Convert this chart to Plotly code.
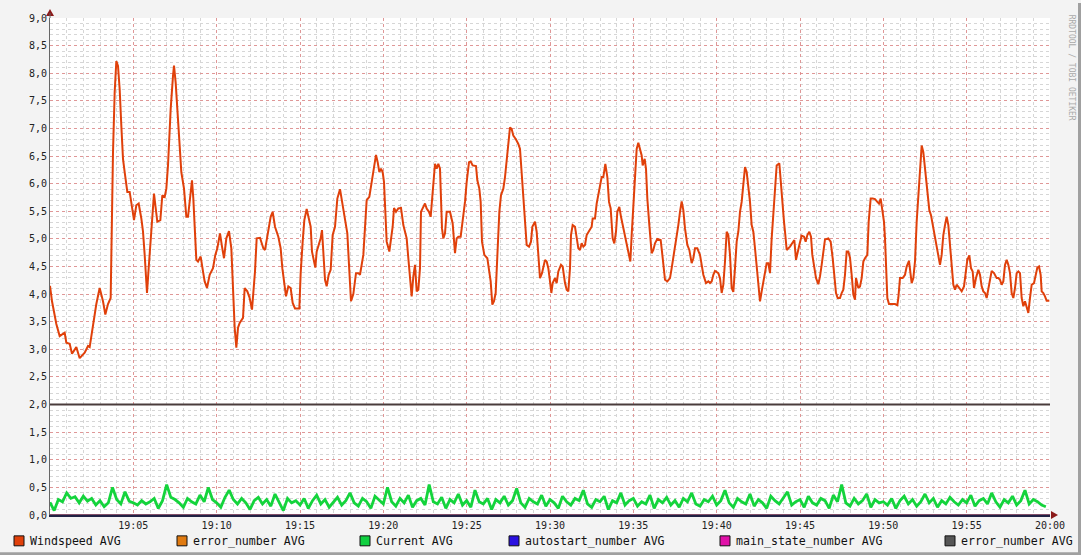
import pandas as pd
import plotly.graph_objects as go

# ---------------- data ----------------
start = "2024-01-01 19:00:00"

# Windspeed AVG: (minutes after 19:00, value)
wind_min = [0.00,0.12,0.38,0.58,0.88,0.98,1.18,1.32,1.58,1.78,2.08,2.28,2.38,2.58,2.78,2.98,3.18,3.32,3.48,3.64,
 3.72,3.78,3.88,3.98,4.08,4.18,4.28,4.38,4.48,4.64,4.78,4.92,5.04,5.18,5.32,5.48,5.58,5.68,5.82,5.92,
 6.08,6.24,6.32,6.44,6.62,6.74,6.88,6.98,7.08,7.24,7.38,7.44,7.54,7.64,7.78,7.88,8.04,8.18,8.28,8.44,
 8.52,8.60,8.68,8.78,8.88,9.04,9.18,9.28,9.42,9.58,9.78,9.92,10.04,10.20,10.32,10.44,10.58,10.74,10.88,11.00,
 11.08,11.18,11.28,11.38,11.58,11.68,11.84,11.98,12.12,12.30,12.40,12.60,12.80,12.90,13.10,13.24,13.36,13.50,13.70,13.84,
 13.94,14.06,14.16,14.30,14.44,14.56,14.70,14.96,15.04,15.16,15.26,15.40,15.52,15.64,15.72,15.84,15.92,16.00,16.16,16.24,
 16.32,16.40,16.50,16.60,16.72,16.84,16.96,17.10,17.24,17.40,17.56,17.70,17.84,17.94,18.06,18.20,18.36,18.50,18.60,18.80,
 18.90,19.00,19.16,19.30,19.44,19.56,19.66,19.76,19.86,19.96,20.04,20.10,20.20,20.36,20.56,20.64,20.76,20.90,21.06,21.20,
 21.30,21.40,21.50,21.64,21.70,21.80,21.90,22.00,22.10,22.20,22.26,22.40,22.50,22.60,22.74,22.84,22.92,23.00,23.10,23.20,
 23.30,23.40,23.44,23.52,23.60,23.70,23.80,24.00,24.16,24.24,24.30,24.40,24.50,24.64,24.76,24.90,25.00,25.14,25.24,25.36,
 25.56,25.64,25.76,25.84,25.92,26.06,26.24,26.36,26.44,26.54,26.64,26.74,26.84,26.96,27.06,27.20,27.30,27.40,27.50,27.60,
 27.70,27.80,27.96,28.10,28.20,28.30,28.40,28.50,28.60,28.74,28.86,28.94,29.10,29.20,29.30,29.40,29.52,29.60,29.70,29.80,
 29.90,30.00,30.08,30.16,30.30,30.40,30.50,30.66,30.76,30.90,31.00,31.10,31.20,31.26,31.36,31.50,31.60,31.70,31.80,31.90,
 32.00,32.10,32.20,32.36,32.50,32.56,32.70,32.80,32.94,33.10,33.20,33.32,33.44,33.54,33.64,33.76,33.86,33.96,34.04,34.16,
 34.26,34.40,34.52,34.64,34.74,34.82,34.90,35.00,35.10,35.20,35.30,35.40,35.50,35.56,35.68,35.76,35.84,35.96,36.10,36.20,
 36.30,36.44,36.64,36.72,36.80,36.90,37.04,37.20,37.30,37.40,37.50,37.60,37.70,37.80,37.90,38.00,38.10,38.24,38.36,38.50,
 38.60,38.70,38.84,39.00,39.10,39.20,39.36,39.50,39.60,39.70,39.80,39.90,40.10,40.20,40.30,40.40,40.50,40.60,40.70,40.80,
 40.90,41.00,41.10,41.20,41.30,41.40,41.50,41.60,41.70,41.80,41.90,42.00,42.10,42.20,42.30,42.40,42.50,42.60,42.70,42.80,
 42.90,43.00,43.10,43.20,43.30,43.40,43.50,43.60,43.76,43.84,43.96,44.04,44.12,44.20,44.40,44.56,44.66,44.76,44.84,44.96,
 45.10,45.24,45.34,45.44,45.56,45.66,45.74,45.84,45.96,46.10,46.20,46.30,46.40,46.50,46.70,46.84,46.96,47.04,47.16,47.26,
 47.40,47.50,47.60,47.70,47.80,47.90,48.00,48.10,48.20,48.30,48.36,48.50,48.60,48.70,48.80,48.90,49.04,49.12,49.24,49.36,
 49.50,49.64,49.74,49.84,49.94,50.04,50.10,50.16,50.24,50.34,50.50,50.70,50.84,50.90,51.00,51.16,51.30,51.40,51.54,51.60,
 51.70,51.80,51.90,52.00,52.10,52.20,52.30,52.40,52.50,52.60,52.70,52.76,52.86,52.96,53.10,53.20,53.30,53.40,53.50,53.60,
 53.70,53.80,53.90,54.00,54.10,54.20,54.30,54.40,54.56,54.70,54.84,54.94,55.04,55.16,55.26,55.36,55.44,55.56,55.70,55.80,
 55.90,56.00,56.10,56.20,56.30,56.40,56.50,56.64,56.80,56.90,57.00,57.10,57.20,57.30,57.40,57.50,57.60,57.70,57.80,57.90,
 58.00,58.10,58.20,58.30,58.40,58.50,58.60,58.70,58.80,58.90,59.04,59.14,59.24,59.34,59.44,59.50,59.60,59.70,59.80,59.96]
wind_val = [4.15,3.87,3.46,3.24,3.30,3.12,3.10,2.92,3.04,2.84,2.94,3.06,3.04,3.46,3.82,4.11,3.87,3.63,3.82,3.93,
 5.73,6.57,7.65,8.22,8.13,7.71,7.05,6.45,6.21,5.85,5.85,5.55,5.34,5.61,5.64,5.37,5.13,4.71,4.02,4.47,
 5.22,5.82,5.61,5.31,5.34,5.79,5.76,5.91,6.33,7.35,7.95,8.14,7.83,7.35,6.57,6.21,5.91,5.40,5.40,5.82,
 6.06,5.73,5.07,4.62,4.59,4.68,4.41,4.23,4.11,4.35,4.47,4.71,4.83,5.10,4.86,4.65,5.01,5.14,4.83,3.99,
 3.39,3.03,3.39,3.48,3.57,4.11,4.05,3.93,3.72,4.41,5.01,5.02,4.83,4.80,5.19,5.40,5.49,5.22,5.04,4.83,
 4.47,4.23,3.96,4.14,4.11,3.84,3.74,3.74,4.38,4.95,5.34,5.54,5.40,5.22,4.77,4.60,4.48,4.77,4.92,5.01,
 5.16,4.77,4.26,4.14,4.35,4.44,5.07,5.22,5.73,5.90,5.61,5.40,5.10,4.53,3.87,4.00,4.38,4.38,4.35,4.71,
 5.25,5.70,5.76,6.03,6.33,6.52,6.39,6.21,6.27,6.21,6.03,5.67,4.95,4.77,5.22,5.56,5.49,5.55,5.56,5.25,
 5.10,5.01,4.65,4.20,3.96,4.32,4.53,4.05,4.08,4.47,5.49,5.58,5.64,5.55,5.49,5.40,5.67,6.09,6.36,6.27,
 6.36,6.27,5.88,5.19,5.01,5.10,5.49,5.49,5.28,5.01,4.74,5.01,5.04,5.04,5.31,5.67,6.03,6.39,6.40,6.33,
 6.32,6.06,5.91,5.67,4.95,4.71,4.65,4.41,4.23,3.81,3.87,4.02,4.71,5.49,5.79,5.91,6.12,6.39,6.69,7.02,
 6.99,6.87,6.80,6.72,6.63,6.21,5.73,5.19,4.89,4.86,4.95,5.22,5.31,5.13,4.65,4.29,4.38,4.47,4.62,4.59,
 4.47,4.23,4.02,4.20,4.29,4.20,4.41,4.53,4.50,4.20,4.08,4.05,4.47,5.07,5.25,5.22,5.01,4.83,4.80,4.92,
 4.86,4.89,5.07,5.16,5.22,5.37,5.37,5.64,5.85,6.12,6.12,6.36,6.12,5.67,5.55,5.01,4.92,5.13,5.49,5.58,
 5.40,5.19,5.07,4.83,4.71,4.59,5.07,5.67,6.27,6.63,6.74,6.63,6.51,6.33,6.45,6.27,5.73,5.25,4.74,4.80,
 4.92,5.00,4.98,4.77,4.47,4.26,4.23,4.29,4.47,4.65,4.89,5.07,5.25,5.49,5.68,5.52,5.19,4.89,4.80,4.56,
 4.65,4.83,4.83,4.71,4.50,4.35,4.20,4.23,4.20,4.23,4.35,4.42,4.38,4.29,4.02,4.17,4.59,5.13,5.07,4.71,
 4.11,4.04,4.47,4.95,5.13,5.49,5.67,5.97,6.30,6.21,5.97,5.67,5.25,5.13,4.83,4.47,4.11,3.87,4.05,4.23,
 4.41,4.56,4.56,4.38,5.01,5.49,6.03,6.33,6.37,6.03,5.67,5.31,5.07,4.80,4.86,4.95,4.98,4.62,4.71,4.89,
 5.06,5.04,4.95,5.07,5.13,5.04,4.71,4.53,4.29,4.18,4.32,4.53,4.77,4.99,5.01,4.95,4.65,4.35,4.02,3.93,
 3.93,4.02,4.08,4.35,4.77,4.77,4.66,4.35,3.99,3.90,4.29,4.11,4.14,4.29,4.59,4.65,4.71,5.31,5.73,5.73,
 5.72,5.67,5.64,5.73,5.55,5.31,5.01,4.41,3.93,3.82,3.82,3.82,3.80,3.93,4.29,4.29,4.35,4.50,4.60,4.47,
 4.20,4.29,4.59,5.31,5.73,6.12,6.69,6.57,6.27,5.97,5.73,5.52,5.43,5.25,5.01,4.83,4.68,4.53,4.71,5.07,
 5.25,5.40,5.25,4.89,4.41,4.17,4.08,4.17,4.11,4.05,4.14,4.41,4.62,4.70,4.47,4.41,4.11,4.29,4.44,4.35,
 4.14,4.05,4.02,3.93,4.11,4.29,4.42,4.38,4.29,4.29,4.26,4.17,4.23,4.53,4.62,4.53,4.38,4.02,3.93,4.11,
 4.38,4.41,4.38,3.93,3.78,3.87,3.75,3.66,3.93,4.17,4.20,4.35,4.48,4.50,4.35,4.05,4.02,3.96,3.88,3.88]

# Current AVG: one value every 15 s from 19:00
current_val = [
 0.23,0.08,0.28,0.24,0.40,0.30,0.33,0.22,0.34,0.25,0.30,0.18,0.26,0.15,0.22,0.50,0.28,0.20,0.42,0.25,
 0.22,0.18,0.26,0.20,0.24,0.30,0.12,0.26,0.55,0.32,0.28,0.22,0.14,0.30,0.24,0.20,0.36,0.24,0.50,0.28,
 0.22,0.14,0.32,0.45,0.28,0.20,0.30,0.22,0.10,0.26,0.32,0.20,0.28,0.16,0.38,0.24,0.08,0.30,0.22,0.26,
 0.18,0.30,0.12,0.26,0.36,0.20,0.28,0.14,0.24,0.32,0.18,0.26,0.40,0.22,0.16,0.30,0.24,0.12,0.34,0.26,
 0.20,0.50,0.24,0.16,0.30,0.22,0.36,0.14,0.26,0.30,0.18,0.55,0.24,0.20,0.32,0.12,0.28,0.22,0.38,0.18,
 0.26,0.14,0.45,0.24,0.20,0.30,0.10,0.28,0.22,0.34,0.18,0.26,0.48,0.22,0.14,0.30,0.24,0.20,0.36,0.16,
 0.28,0.22,0.12,0.34,0.24,0.18,0.30,0.26,0.45,0.20,0.14,0.28,0.24,0.34,0.10,0.26,0.22,0.40,0.18,0.26,
 0.30,0.16,0.24,0.20,0.36,0.12,0.28,0.22,0.32,0.18,0.26,0.14,0.30,0.24,0.40,0.20,0.16,0.28,0.24,0.34,
 0.18,0.26,0.45,0.22,0.14,0.30,0.24,0.20,0.38,0.16,0.28,0.22,0.12,0.34,0.26,0.20,0.30,0.42,0.18,0.24,
 0.28,0.14,0.34,0.22,0.18,0.30,0.26,0.12,0.36,0.24,0.55,0.22,0.16,0.30,0.20,0.26,0.38,0.14,0.28,0.22,
 0.24,0.18,0.30,0.12,0.26,0.34,0.20,0.28,0.16,0.24,0.38,0.22,0.30,0.14,0.26,0.20,0.32,0.24,0.18,0.28,
 0.22,0.36,0.16,0.26,0.30,0.20,0.40,0.24,0.14,0.28,0.22,0.34,0.18,0.26,0.45,0.20,0.28,0.24,0.18,0.15]
current_min = [i * 0.25 for i in range(len(current_val))]

# constant status series
error_number_val = [0.0, 0.0]
autostart_val = [0.0, 0.0]
main_state_val = [0.0, 0.0]
error_number2_val = [2.0, 2.0]
status_min = [0.0, 60.0]

legend_names = ["Windspeed AVG", "error_number AVG", "Current AVG",
                "autostart_number AVG", "main_state_number AVG", "error_number AVG"]
legend_colors = ["#e0400a", "#e07a10", "#10d040", "#2a10e0", "#e010a8", "#555555"]

x_tick_min = [5, 10, 15, 20, 25, 30, 35, 40, 45, 50, 55, 60]
x_tick_text = ["19:05", "19:10", "19:15", "19:20", "19:25", "19:30",
               "19:35", "19:40", "19:45", "19:50", "19:55", "20:00"]
y_tickvals = [i * 0.5 for i in range(19)]
y_ticktext = [f"{v:.1f}".replace(".", ",") for v in y_tickvals]

# ---------------- figure ----------------
base = pd.Timestamp(start)
def tt(mins):
    return base + pd.to_timedelta(mins, unit="m")

fig = go.Figure()
fig.add_trace(go.Scatter(x=tt(status_min), y=main_state_val, mode="lines",
                         line=dict(color=legend_colors[4], width=1), showlegend=False))
fig.add_trace(go.Scatter(x=tt(status_min), y=error_number_val, mode="lines",
                         line=dict(color=legend_colors[1], width=1), showlegend=False))
fig.add_trace(go.Scatter(x=tt(status_min), y=autostart_val, mode="lines",
                         line=dict(color="#1c1c60", width=1), showlegend=False))
fig.add_trace(go.Scatter(x=tt(status_min), y=error_number2_val, mode="lines",
                         line=dict(color="#4a3c3c", width=2), showlegend=False))
fig.add_trace(go.Scatter(x=tt(current_min), y=current_val, mode="lines",
                         line=dict(color="#14d43c", width=2.8), showlegend=False))
fig.add_trace(go.Scatter(x=tt(wind_min), y=wind_val, mode="lines",
                         line=dict(color="#e0400a", width=2), showlegend=False))

mono = "DejaVu Sans Mono"
fig.update_layout(
    width=1081, height=555,
    margin=dict(l=50, r=31, t=15, b=40),
    paper_bgcolor="#f3f3f3", plot_bgcolor="#ffffff",
    font=dict(family=mono, size=10, color="#222222"),
    showlegend=False,
)
fig.update_xaxes(
    type="date", range=[tt(0), tt(60)],
    tickvals=tt(x_tick_min), ticktext=x_tick_text,
    showgrid=True, gridcolor="rgba(225,130,130,0.75)", griddash="dot", gridwidth=1,
    minor=dict(tick0=tt(0), dtick=60000, showgrid=True, gridcolor="#d6d6d6", griddash="dot", gridwidth=1),
    showline=True, linecolor="#222244", linewidth=1.5, zeroline=False,
    ticks="", tickfont=dict(family=mono, size=10, color="#222"),
)
fig.update_yaxes(
    range=[0, 9], tickvals=y_tickvals, ticktext=y_ticktext,
    showgrid=True, gridcolor="rgba(225,130,130,0.75)", griddash="dot", gridwidth=1,
    minor=dict(dtick=0.1, showgrid=True, gridcolor="#d6d6d6", griddash="dot", gridwidth=1),
    showline=True, linecolor="#666666", linewidth=1, zeroline=False,
    ticks="", tickfont=dict(family=mono, size=10, color="#222"),
)

shapes = []
annotations = []
# axis arrows
shapes.append(dict(type="path", xref="paper", yref="paper",
                   path="M -0.004 1.004 L 0.004 1.004 L 0 1.018 Z",
                   fillcolor="#8b1a1a", line=dict(width=0)))
shapes.append(dict(type="line", xref="paper", yref="paper", x0=0, x1=0, y0=1.0, y1=1.01,
                   line=dict(color="#666666", width=1)))
shapes.append(dict(type="path", xref="paper", yref="paper",
                   path="M 1.001 -0.008 L 1.001 0.008 L 1.008 0 Z",
                   fillcolor="#8b1a1a", line=dict(width=0)))
# outer border (3d edge)
shapes.append(dict(type="rect", xref="paper", yref="paper", x0=1.028, x1=1.032, y0=-0.082, y1=1.03,
                   fillcolor="#a0a0a0", line=dict(width=0)))
shapes.append(dict(type="rect", xref="paper", yref="paper", x0=-0.06, x1=1.032, y0=-0.082, y1=-0.075,
                   fillcolor="#a0a0a0", line=dict(width=0)))

# legend
leg_x = [-0.031, 0.132, 0.315, 0.464, 0.675, 0.900]
for name, col, lx in zip(legend_names, legend_colors, leg_x):
    shapes.append(dict(type="rect", xref="paper", yref="paper",
                       x0=lx - 0.005, x1=lx + 0.005, y0=-0.062, y1=-0.042,
                       fillcolor=col, line=dict(color="#111111", width=1)))
    annotations.append(dict(text=name, xref="paper", yref="paper", x=lx + 0.009, y=-0.052,
                            xanchor="left", yanchor="middle", showarrow=False,
                            font=dict(family=mono, size=11.6, color="#111111")))

annotations.append(dict(text="RRDTOOL / TOBI OETIKER", xref="paper", yref="paper",
                        x=1.021, y=0.9, textangle=90, showarrow=False,
                        xanchor="center", yanchor="middle",
                        font=dict(family=mono, size=8, color="#aaaaaa")))

fig.update_layout(shapes=shapes, annotations=annotations)
fig.write_html("out.html", config={"displayModeBar": False},
               post_script="document.body.style.margin='0';document.body.style.padding='0';"
                           "document.documentElement.style.overflow='hidden';")
